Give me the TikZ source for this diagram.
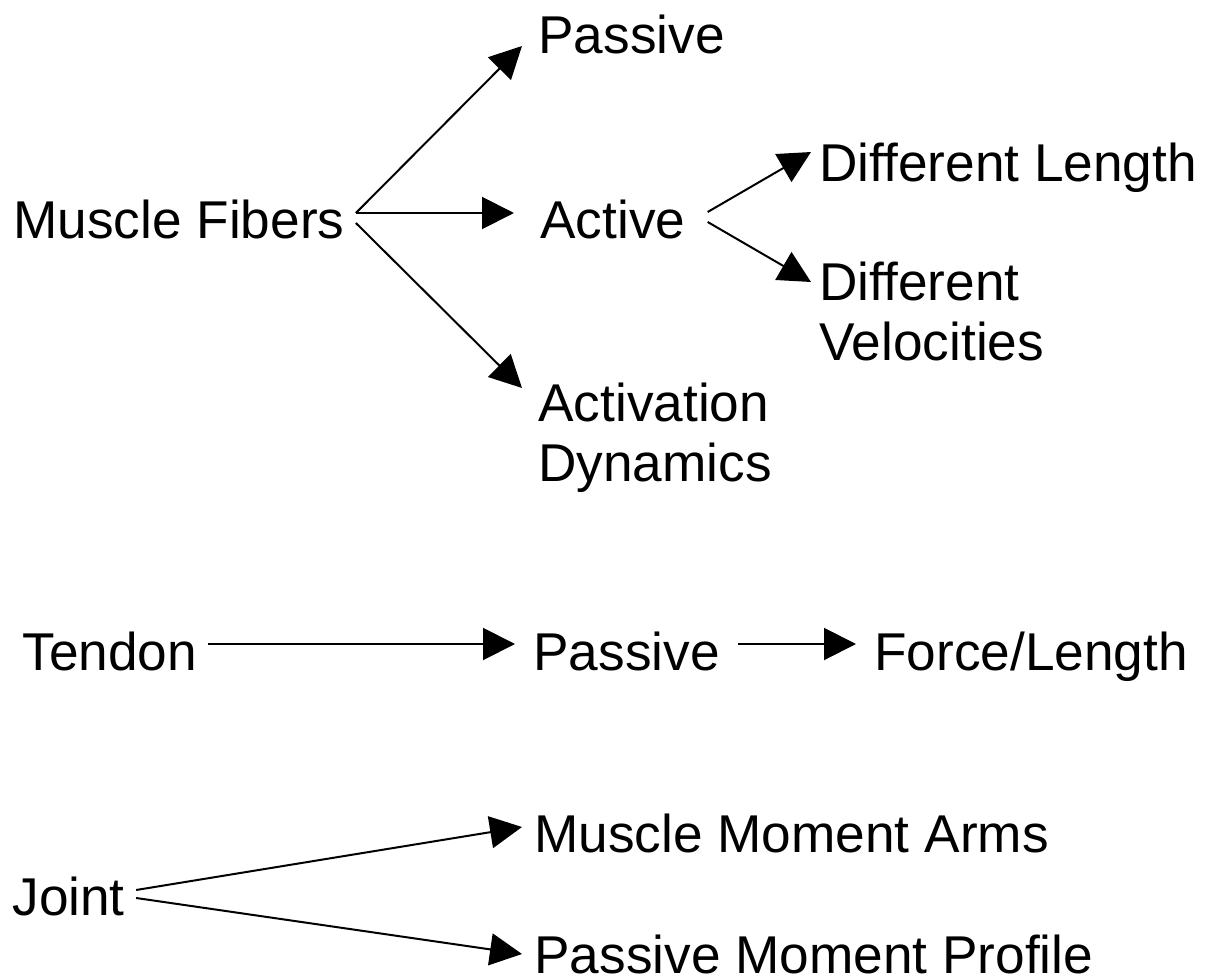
\documentclass[tikz,border=0pt]{standalone}
\usepackage{fontspec}
\setmainfont{Liberation Sans}
\usetikzlibrary{arrows.meta,calc}
\begin{document}
\begin{tikzpicture}[x=0.5pt,y=-0.5pt,
  lbl/.style={anchor=base west,inner sep=0pt,align=left,font=\fontsize{26.6}{30}\selectfont},
  arr/.style={line width=1pt,-{Triangle[length=16pt,width=16pt]}}]
\useasboundingbox (0,0) rectangle (1206,979);
\node[lbl] (p1)  at (538,54)  {Passive};
\node[lbl] (mf)  at (13,239)  {Muscle Fibers};
\node[lbl] (act) at (540,238) {Active};
\node[lbl] (dl)  at (819,182) {Different Length};
\node[lbl] (dv)  at (819,360) {Different\\Velocities};
\node[lbl] (ad)  at (538,481) {Activation\\Dynamics};
\node[lbl] (ten) at (22,670)  {Tendon};
\node[lbl] (p2)  at (533,670) {Passive};
\node[lbl] (fl)  at (874,670) {Force/Length};
\node[lbl] (mma) at (534,852) {Muscle Moment Arms};
\node[lbl] (jo)  at (12,915)  {Joint};
\node[lbl] (pmp) at (534,973) {Passive Moment Profile};
\draw[arr] ($(mf.base east)+(11,-26)$) -- ($(p1.base west)+(-16,-8)$);
\draw[arr] ($(mf.base east)+(11,-26)$) -- ($(act.base west)+(-26,-25)$);
\draw[arr] ($(mf.base east)+(11,-16)$) -- ($(ad.base west)+(-16,-93)$);
\draw[arr] ($(act.base east)+(22,-26)$) -- ($(dl.base west)+(-8,-30)$);
\draw[arr] ($(act.base east)+(22,-16)$) -- ($(dv.base west)+(-8,-78)$);
\draw[arr] ($(ten.base east)+(11,-26)$) -- ($(p2.base west)+(-18,-26)$);
\draw[arr] ($(p2.base east)+(18,-26)$) -- ($(fl.base west)+(-18,-26)$);
\draw[arr] ($(jo.base east)+(11,-25)$) -- ($(mma.base west)+(-12,-25)$);
\draw[arr] ($(jo.base east)+(11,-17)$) -- ($(pmp.base west)+(-12,-19)$);
\end{tikzpicture}
\end{document}
